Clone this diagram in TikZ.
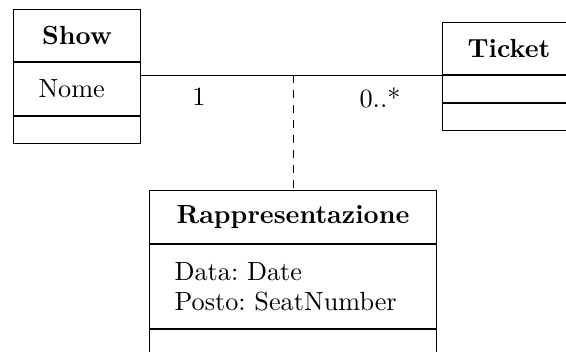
\documentclass[tikz,border=0pt]{standalone}
\usepackage{tikz}
\usetikzlibrary{calc}
\usetikzlibrary{positioning}
\frenchspacing
\newcommand{\umlsize}{\fontsize{10.5pt}{12pt}\selectfont}

\begin{document}
\begin{tikzpicture}[font=\umlsize,
      classname/.style={draw, font=\umlsize\bfseries, minimum height=20.8pt,
                        inner sep=0pt},
      classattrs/.style={draw, align=left, inner xsep=10pt, inner ysep=0pt},
      classops/.style={draw, minimum height=10.8pt, inner sep=0pt},
      mult/.style={inner sep=0pt}]
      \useasboundingbox (0,0) rectangle (226.4pt, -140.4pt);

      \node [classname, anchor=north west, minimum width=50.8pt] (show)
            at (5.2pt, -3.6pt) {Show};
      \node [classattrs, below=0pt of show, text width=30.8pt,
             minimum height=21.2pt] (showattrs) {Nome};
      \node [classops, below=0pt of showattrs, minimum width=50.8pt]
            (showops) {};

      \node [classname, anchor=north west, minimum width=53.2pt] (ticket)
            at (176.8pt, -8.8pt) {Ticket};
      \node [classattrs, below=0pt of ticket, text width=33.2pt,
             minimum height=10.8pt] (ticketattrs) {};
      \node [classops, below=0pt of ticketattrs, minimum width=53.2pt]
            (ticketops) {};

      \node [classname, anchor=north west, minimum width=114.8pt,
             minimum height=21.2pt] (rappr) at (59.6pt, -76pt)
            {Rappresentazione};
      \node [classattrs, below=0pt of rappr, text width=94.8pt,
             minimum height=33.6pt] (rapprattrs)
            {Data: Date\\Posto: SeatNumber};
      \node [classops, below=0pt of rapprattrs, minimum width=114.8pt]
            (rapprops) {};

      % association Show -- Ticket
      \coordinate (assocshow) at (ticket.south west -| show.east);
      \draw (assocshow) -- (ticket.south west);
      \node [mult] (multshow) at ($(assocshow) + (23.2pt, -8.8pt)$) {1};
      \node [mult] (multticket) at ($(ticket.south west) + (-24.8pt, -9.2pt)$)
            {0..*};

      % association class
      \coordinate (assocmid) at (rappr.north |- ticket.south west);
      \draw [dashed] (assocmid) -- (rappr.north);
\end{tikzpicture}
\end{document}
